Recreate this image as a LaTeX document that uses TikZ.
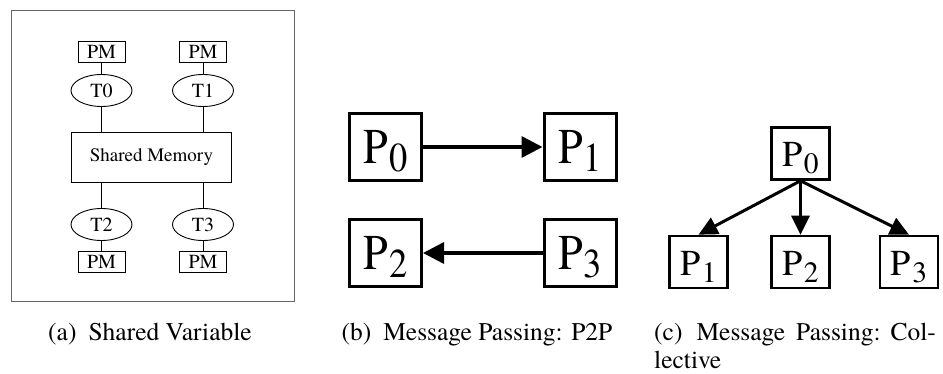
\documentclass[tikz,border=0pt]{standalone}
\usepackage{fontspec}
\setmainfont{texgyretermes}[Extension=.otf, UprightFont=*-regular, BoldFont=*-bold, ItalicFont=*-italic, BoldItalicFont=*-bolditalic]
\usepackage{graphicx}
\usetikzlibrary{arrows.meta,shapes.geometric}

% processor label: P with a lowered index
\newcommand\procname[3]{P\kern1pt\raisebox{-#3}{\fontsize{#2}{#2}\selectfont #1}}

\begin{document}
\begin{tikzpicture}[x=1pt,y=-1pt,
  frameA/.style={draw=black!60, line width=1pt},
  pmbox/.style={draw, line width=0.9pt, inner sep=0pt, minimum width=47pt, minimum height=21pt,
    font=\fontsize{20}{20}\selectfont},
  thread/.style={draw, ellipse, line width=0.9pt, inner sep=0pt, minimum width=61pt, minimum height=32pt,
    font=\fontsize{20}{20}\selectfont},
  membox/.style={draw, line width=0.9pt, inner sep=0pt, minimum width=160pt, minimum height=50pt,
    font=\fontsize{19}{19}\selectfont},
  link/.style={line width=0.9pt},
  pbig/.style={draw, line width=3pt, inner sep=0pt, minimum width=72pt, minimum height=67pt,
    text height=33pt, text depth=0.4pt, font=\fontsize{50}{50}\selectfont},
  psmall/.style={draw, line width=2.6pt, inner sep=0pt, minimum width=58pt, minimum height=52pt,
    text height=27pt, text depth=0pt, font=\fontsize{36.5}{36.5}\selectfont},
  msgbig/.style={line width=3.5pt, -{Triangle[length=21pt,width=21pt]}},
  msgsmall/.style={line width=3pt, -{Triangle[length=19pt,width=18pt]}},
  capt/.style={anchor=base, inner sep=0pt, font=\fontsize{25.5}{25.5}\selectfont},
  captl/.style={anchor=base west, inner sep=0pt, font=\fontsize{25.5}{25.5}\selectfont}]
\useasboundingbox (0,0) rectangle (943,374);

% ---------- (a) shared variable ----------
\draw[frameA] (11,11) rectangle (294,302);
\node[pmbox] (pm0) at (101.5,52) {PM};
\node[pmbox] (pm1) at (203,52) {PM};
\node[thread] (t0) at (101.5,90.5) {T0};
\node[thread] (t1) at (203,90.5) {T1};
\node[membox] (sm) at (151.5,157.5) {Shared Memory};
\node[thread] (t2) at (101.5,224.5) {T2};
\node[thread] (t3) at (203,224.5) {T3};
\node[pmbox] (pm2) at (101.5,262) {PM};
\node[pmbox] (pm3) at (203,262) {PM};
\draw[link] (pm0) -- (t0);
\draw[link] (pm1) -- (t1);
\draw[link] (t0) -- (t0 |- sm.north);
\draw[link] (t1) -- (t1 |- sm.north);
\draw[link] (t2) -- (t2 |- sm.south);
\draw[link] (t3) -- (t3 |- sm.south);
\draw[link] (t2) -- (pm2);
\draw[link] (t3) -- (pm3);

% ---------- (b) point to point ----------
\node[pbig] (b0) at (385.5,147) {\scalebox{0.89}[1]{\procname{0}{41}{8.5pt}}};
\node[pbig] (b1) at (580,147) {\scalebox{0.89}[1]{\procname{1}{41}{8.5pt}}};
\node[pbig] (b2) at (385.5,253) {\scalebox{0.89}[1]{\procname{2}{41}{8.5pt}}};
\node[pbig] (b3) at (580,253) {\scalebox{0.89}[1]{\procname{3}{41}{8.5pt}}};
\draw[msgbig] (b0) -- (b1);
\draw[msgbig] (b3) -- (b2);

% ---------- (c) collective ----------
\node[psmall] (c0) at (800.5,153.5) {\procname{0}{29.5}{6.7pt}};
\node[psmall] (c1) at (698.5,262) {\procname{1}{29.5}{6.7pt}};
\node[psmall] (c2) at (800.5,262) {\procname{2}{29.5}{6.7pt}};
\node[psmall] (c3) at (909,262) {\procname{3}{29.5}{6.7pt}};
\draw[msgsmall] (c0.south) -- (c1.north);
\draw[msgsmall] (c0.south) -- (c2.north);
\draw[msgsmall] (c0.south) -- (c3.north);

% ---------- captions ----------
\node[capt] (capa) at (150,341) {(a)\hspace{12pt}Shared Variable};
\node[capt] (capb) at (477,341) {(b)\hspace{12pt}Message Passing: P2P};
\node[captl] (capc) at (654,340) {(c)\hspace{14pt}Message\hspace{11pt}Passing:\hspace{10pt}Col-};
\node[captl] (capc2) at (654,368.5) {lective};
\end{tikzpicture}
\end{document}
